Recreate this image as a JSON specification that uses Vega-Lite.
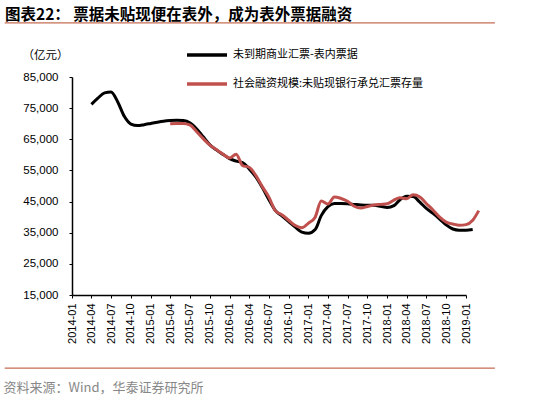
{
  "$schema": "https://vega.github.io/schema/vega-lite/v6.json",
  "width": 394,
  "height": 218,
  "autosize": {"type": "none"},
  "padding": {"left": 72, "top": 77, "right": 72, "bottom": 107},
  "background": "white",
  "title": {
    "text": "图表22：  票据未贴现便在表外，成为表外票据融资",
    "anchor": "start",
    "frame": "group",
    "dx": -67,
    "dy": 5,
    "fontSize": 15.5,
    "font": "Noto Sans CJK SC",
    "fontWeight": "bold",
    "color": "#000000"
  },
  "config": {
    "view": {"stroke": null},
    "axis": {
      "labelColor": "#000000",
      "domainColor": "#000000",
      "domainWidth": 1.5,
      "tickColor": "#000000",
      "tickSize": 3,
      "grid": false,
      "labelFont": "Liberation Sans",
      "titleFont": "Noto Sans CJK SC",
      "titleFontWeight": "normal"
    },
    "axisX": {
      "labelAngle": 270,
      "labelAlign": "right",
      "labelBaseline": "middle",
      "labelPadding": 5,
      "labelFontSize": 11,
      "labelOverlap": false,
      "labelFlush": false,
      "titleFontSize": 13,
      "titleColor": "#888888",
      "titleAnchor": "start",
      "titleAlign": "left",
      "titleBaseline": "middle",
      "titleX": -69,
      "titleY": 92
    },
    "axisY": {
      "labelFontSize": 11.5,
      "labelPadding": 11,
      "titleAngle": 0,
      "titleFontSize": 11.5,
      "titleColor": "#000000",
      "titleAlign": "center",
      "titleBaseline": "middle",
      "titleX": -27,
      "titleY": -22
    }
  },
  "layer": [
    {
      "data": {
        "values": [
          {"date": "2014/04/01", "series": "未到期商业汇票-表内票据", "value": 76200},
          {"date": "2014/05/01", "series": "未到期商业汇票-表内票据", "value": 78200},
          {"date": "2014/06/01", "series": "未到期商业汇票-表内票据", "value": 79900},
          {"date": "2014/07/01", "series": "未到期商业汇票-表内票据", "value": 80200},
          {"date": "2014/08/01", "series": "未到期商业汇票-表内票据", "value": 77000},
          {"date": "2014/09/01", "series": "未到期商业汇票-表内票据", "value": 72300},
          {"date": "2014/10/01", "series": "未到期商业汇票-表内票据", "value": 69900},
          {"date": "2014/11/01", "series": "未到期商业汇票-表内票据", "value": 69400},
          {"date": "2014/12/01", "series": "未到期商业汇票-表内票据", "value": 69700},
          {"date": "2015/01/01", "series": "未到期商业汇票-表内票据", "value": 70100},
          {"date": "2015/02/01", "series": "未到期商业汇票-表内票据", "value": 70500},
          {"date": "2015/03/01", "series": "未到期商业汇票-表内票据", "value": 70800},
          {"date": "2015/04/01", "series": "未到期商业汇票-表内票据", "value": 71000},
          {"date": "2015/05/01", "series": "未到期商业汇票-表内票据", "value": 71100},
          {"date": "2015/06/01", "series": "未到期商业汇票-表内票据", "value": 71000},
          {"date": "2015/07/01", "series": "未到期商业汇票-表内票据", "value": 70300},
          {"date": "2015/08/01", "series": "未到期商业汇票-表内票据", "value": 68400},
          {"date": "2015/09/01", "series": "未到期商业汇票-表内票据", "value": 65800},
          {"date": "2015/10/01", "series": "未到期商业汇票-表内票据", "value": 63300},
          {"date": "2015/11/01", "series": "未到期商业汇票-表内票据", "value": 61600},
          {"date": "2015/12/01", "series": "未到期商业汇票-表内票据", "value": 60200},
          {"date": "2016/01/01", "series": "未到期商业汇票-表内票据", "value": 58800},
          {"date": "2016/02/01", "series": "未到期商业汇票-表内票据", "value": 58000},
          {"date": "2016/03/01", "series": "未到期商业汇票-表内票据", "value": 57500},
          {"date": "2016/04/01", "series": "未到期商业汇票-表内票据", "value": 55500},
          {"date": "2016/05/01", "series": "未到期商业汇票-表内票据", "value": 53000},
          {"date": "2016/06/01", "series": "未到期商业汇票-表内票据", "value": 49500},
          {"date": "2016/07/01", "series": "未到期商业汇票-表内票据", "value": 45700},
          {"date": "2016/08/01", "series": "未到期商业汇票-表内票据", "value": 42100},
          {"date": "2016/09/01", "series": "未到期商业汇票-表内票据", "value": 40300},
          {"date": "2016/10/01", "series": "未到期商业汇票-表内票据", "value": 38600},
          {"date": "2016/11/01", "series": "未到期商业汇票-表内票据", "value": 36800},
          {"date": "2016/12/01", "series": "未到期商业汇票-表内票据", "value": 35200},
          {"date": "2017/01/01", "series": "未到期商业汇票-表内票据", "value": 34800},
          {"date": "2017/02/01", "series": "未到期商业汇票-表内票据", "value": 36000},
          {"date": "2017/03/01", "series": "未到期商业汇票-表内票据", "value": 40500},
          {"date": "2017/04/01", "series": "未到期商业汇票-表内票据", "value": 43400},
          {"date": "2017/05/01", "series": "未到期商业汇票-表内票据", "value": 44400},
          {"date": "2017/06/01", "series": "未到期商业汇票-表内票据", "value": 44400},
          {"date": "2017/07/01", "series": "未到期商业汇票-表内票据", "value": 44300},
          {"date": "2017/08/01", "series": "未到期商业汇票-表内票据", "value": 44100},
          {"date": "2017/09/01", "series": "未到期商业汇票-表内票据", "value": 43900},
          {"date": "2017/10/01", "series": "未到期商业汇票-表内票据", "value": 43800},
          {"date": "2017/11/01", "series": "未到期商业汇票-表内票据", "value": 43800},
          {"date": "2017/12/01", "series": "未到期商业汇票-表内票据", "value": 43500},
          {"date": "2018/01/01", "series": "未到期商业汇票-表内票据", "value": 43100},
          {"date": "2018/02/01", "series": "未到期商业汇票-表内票据", "value": 43700},
          {"date": "2018/03/01", "series": "未到期商业汇票-表内票据", "value": 45600},
          {"date": "2018/04/01", "series": "未到期商业汇票-表内票据", "value": 46700},
          {"date": "2018/05/01", "series": "未到期商业汇票-表内票据", "value": 46600},
          {"date": "2018/06/01", "series": "未到期商业汇票-表内票据", "value": 44800},
          {"date": "2018/07/01", "series": "未到期商业汇票-表内票据", "value": 42800},
          {"date": "2018/08/01", "series": "未到期商业汇票-表内票据", "value": 41200},
          {"date": "2018/09/01", "series": "未到期商业汇票-表内票据", "value": 39400},
          {"date": "2018/10/01", "series": "未到期商业汇票-表内票据", "value": 37500},
          {"date": "2018/11/01", "series": "未到期商业汇票-表内票据", "value": 36200},
          {"date": "2018/12/01", "series": "未到期商业汇票-表内票据", "value": 35800},
          {"date": "2019/01/01", "series": "未到期商业汇票-表内票据", "value": 35800},
          {"date": "2019/02/01", "series": "未到期商业汇票-表内票据", "value": 36000},
          {"date": "2015/04/01", "series": "社会融资规模:未贴现银行承兑汇票存量", "value": 70000},
          {"date": "2015/05/01", "series": "社会融资规模:未贴现银行承兑汇票存量", "value": 70100},
          {"date": "2015/06/01", "series": "社会融资规模:未贴现银行承兑汇票存量", "value": 70100},
          {"date": "2015/07/01", "series": "社会融资规模:未贴现银行承兑汇票存量", "value": 69600},
          {"date": "2015/08/01", "series": "社会融资规模:未贴现银行承兑汇票存量", "value": 67500},
          {"date": "2015/09/01", "series": "社会融资规模:未贴现银行承兑汇票存量", "value": 65200},
          {"date": "2015/10/01", "series": "社会融资规模:未贴现银行承兑汇票存量", "value": 63200},
          {"date": "2015/11/01", "series": "社会融资规模:未贴现银行承兑汇票存量", "value": 61700},
          {"date": "2015/12/01", "series": "社会融资规模:未贴现银行承兑汇票存量", "value": 60300},
          {"date": "2016/01/01", "series": "社会融资规模:未贴现银行承兑汇票存量", "value": 59000},
          {"date": "2016/02/01", "series": "社会融资规模:未贴现银行承兑汇票存量", "value": 60200},
          {"date": "2016/03/01", "series": "社会融资规模:未贴现银行承兑汇票存量", "value": 56600},
          {"date": "2016/04/01", "series": "社会融资规模:未贴现银行承兑汇票存量", "value": 56000},
          {"date": "2016/05/01", "series": "社会融资规模:未贴现银行承兑汇票存量", "value": 53500},
          {"date": "2016/06/01", "series": "社会融资规模:未贴现银行承兑汇票存量", "value": 49800},
          {"date": "2016/07/01", "series": "社会融资规模:未贴现银行承兑汇票存量", "value": 46500},
          {"date": "2016/08/01", "series": "社会融资规模:未贴现银行承兑汇票存量", "value": 42000},
          {"date": "2016/09/01", "series": "社会融资规模:未贴现银行承兑汇票存量", "value": 40700},
          {"date": "2016/10/01", "series": "社会融资规模:未贴现银行承兑汇票存量", "value": 39000},
          {"date": "2016/11/01", "series": "社会融资规模:未贴现银行承兑汇票存量", "value": 37300},
          {"date": "2016/12/01", "series": "社会融资规模:未贴现银行承兑汇票存量", "value": 36600},
          {"date": "2017/01/01", "series": "社会融资规模:未贴现银行承兑汇票存量", "value": 38100},
          {"date": "2017/02/01", "series": "社会融资规模:未贴现银行承兑汇票存量", "value": 40000},
          {"date": "2017/03/01", "series": "社会融资规模:未贴现银行承兑汇票存量", "value": 45200},
          {"date": "2017/04/01", "series": "社会融资规模:未贴现银行承兑汇票存量", "value": 44200},
          {"date": "2017/05/01", "series": "社会融资规模:未贴现银行承兑汇票存量", "value": 46500},
          {"date": "2017/06/01", "series": "社会融资规模:未贴现银行承兑汇票存量", "value": 46000},
          {"date": "2017/07/01", "series": "社会融资规模:未贴现银行承兑汇票存量", "value": 45100},
          {"date": "2017/08/01", "series": "社会融资规模:未贴现银行承兑汇票存量", "value": 43500},
          {"date": "2017/09/01", "series": "社会融资规模:未贴现银行承兑汇票存量", "value": 42900},
          {"date": "2017/10/01", "series": "社会融资规模:未贴现银行承兑汇票存量", "value": 43400},
          {"date": "2017/11/01", "series": "社会融资规模:未贴现银行承兑汇票存量", "value": 43900},
          {"date": "2017/12/01", "series": "社会融资规模:未贴现银行承兑汇票存量", "value": 44100},
          {"date": "2018/01/01", "series": "社会融资规模:未贴现银行承兑汇票存量", "value": 44300},
          {"date": "2018/02/01", "series": "社会融资规模:未贴现银行承兑汇票存量", "value": 45500},
          {"date": "2018/03/01", "series": "社会融资规模:未贴现银行承兑汇票存量", "value": 46200},
          {"date": "2018/04/01", "series": "社会融资规模:未贴现银行承兑汇票存量", "value": 45900},
          {"date": "2018/05/01", "series": "社会融资规模:未贴现银行承兑汇票存量", "value": 47200},
          {"date": "2018/06/01", "series": "社会融资规模:未贴现银行承兑汇票存量", "value": 46500},
          {"date": "2018/07/01", "series": "社会融资规模:未贴现银行承兑汇票存量", "value": 44400},
          {"date": "2018/08/01", "series": "社会融资规模:未贴现银行承兑汇票存量", "value": 42300},
          {"date": "2018/09/01", "series": "社会融资规模:未贴现银行承兑汇票存量", "value": 40000},
          {"date": "2018/10/01", "series": "社会融资规模:未贴现银行承兑汇票存量", "value": 38400},
          {"date": "2018/11/01", "series": "社会融资规模:未贴现银行承兑汇票存量", "value": 37800},
          {"date": "2018/12/01", "series": "社会融资规模:未贴现银行承兑汇票存量", "value": 37400},
          {"date": "2019/01/01", "series": "社会融资规模:未贴现银行承兑汇票存量", "value": 37600},
          {"date": "2019/02/01", "series": "社会融资规模:未贴现银行承兑汇票存量", "value": 39000},
          {"date": "2019/03/01", "series": "社会融资规模:未贴现银行承兑汇票存量", "value": 42100}
        ]
      },
      "mark": {"type": "line", "interpolate": "monotone", "strokeWidth": 3},
      "encoding": {
        "x": {
          "field": "date",
          "type": "temporal",
          "scale": {"domain": [{"year": 2014, "month": 1, "date": 1}, {"year": 2019, "month": 1, "date": 1}], "nice": false},
          "axis": {"format": "%Y-%m", "tickCount": {"interval": "month", "step": 3}, "title": "资料来源：Wind，华泰证券研究所"}
        },
        "y": {
          "field": "value",
          "type": "quantitative",
          "scale": {"domain": [15000, 85000], "nice": false, "zero": false},
          "axis": {"values": [15000, 25000, 35000, 45000, 55000, 65000, 75000, 85000], "format": ",d", "title": "（亿元）"}
        },
        "color": {
          "field": "series",
          "type": "nominal",
          "scale": {
            "domain": ["未到期商业汇票-表内票据", "社会融资规模:未贴现银行承兑汇票存量"],
            "range": ["#000000", "#C0504D"]
          },
          "legend": {
            "orient": "none",
            "legendX": 113,
            "legendY": -44,
            "title": null,
            "symbolType": "stroke",
            "symbolSize": 1600,
            "symbolStrokeWidth": 3.5,
            "labelFont": "Noto Sans CJK SC",
            "labelFontSize": 11,
            "labelColor": "#000000",
            "labelOffset": 4,
            "labelLimit": 0,
            "rowPadding": 0
          }
        }
      }
    },
    {
      "data": {"values": [{}]},
      "mark": {"type": "rule", "color": "#B7472A", "strokeWidth": 1},
      "encoding": {
        "x": {
          "datum": {"year": 2013, "month": 2, "date": 23},
          "type": "temporal",
          "scale": {"domain": [{"year": 2014, "month": 1, "date": 1}, {"year": 2019, "month": 1, "date": 1}], "nice": false},
          "axis": {"format": "%Y-%m", "tickCount": {"interval": "month", "step": 3}, "title": "资料来源：Wind，华泰证券研究所"}
        },
        "x2": {"datum": {"year": 2019, "month": 5, "date": 15}},
        "y": {
          "datum": 102366,
          "type": "quantitative",
          "scale": {"domain": [15000, 85000], "nice": false, "zero": false},
          "axis": {"values": [15000, 25000, 35000, 45000, 55000, 65000, 75000, 85000], "format": ",d", "title": "（亿元）"}
        }
      }
    },
    {
      "data": {"values": [{}]},
      "mark": {"type": "rule", "color": "#B7472A", "strokeWidth": 1},
      "encoding": {
        "x": {
          "datum": {"year": 2013, "month": 2, "date": 23},
          "type": "temporal",
          "scale": {"domain": [{"year": 2014, "month": 1, "date": 1}, {"year": 2019, "month": 1, "date": 1}], "nice": false},
          "axis": {"format": "%Y-%m", "tickCount": {"interval": "month", "step": 3}, "title": "资料来源：Wind，华泰证券研究所"}
        },
        "x2": {"datum": {"year": 2019, "month": 5, "date": 15}},
        "y": {
          "datum": -8477,
          "type": "quantitative",
          "scale": {"domain": [15000, 85000], "nice": false, "zero": false},
          "axis": {"values": [15000, 25000, 35000, 45000, 55000, 65000, 75000, 85000], "format": ",d", "title": "（亿元）"}
        }
      }
    }
  ]
}
